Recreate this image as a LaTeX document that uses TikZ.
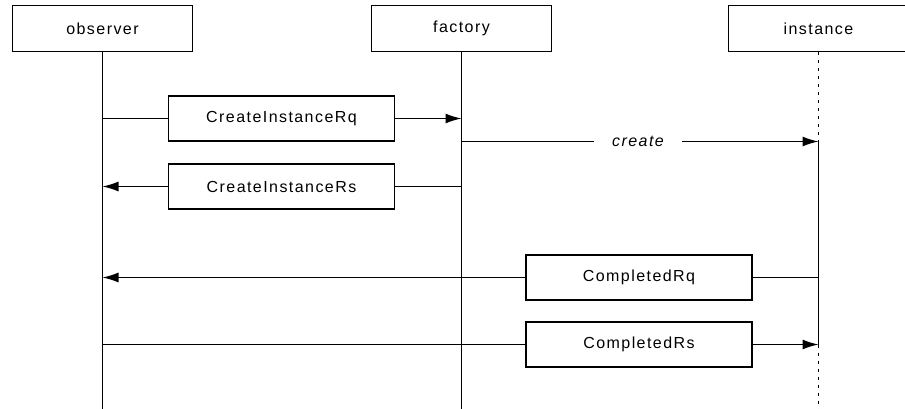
\documentclass[tikz,border=0pt]{standalone}
\usepackage{fontspec}
\setmainfont{Liberation Sans}[LetterSpace=9]
\usetikzlibrary{arrows.meta}
\begin{document}
\begin{tikzpicture}[x=1pt,y=-1pt,
  every node/.style={font=\fontsize{16}{19}\selectfont},
  header/.style={draw,line width=1.4pt,minimum width=180pt,minimum height=46pt,inner sep=0pt},
  msgbox/.style={draw,line width=1.4pt,minimum width=226pt,minimum height=45pt,inner sep=0pt},
  lifeline/.style={line width=1.3pt},
  dormant/.style={line width=1.3pt,dash pattern=on 3pt off 5pt},
  wire/.style={line width=1.3pt},
  msgarrow/.style={line width=1.3pt,-{Latex[length=16pt,width=10pt]}}]
\useasboundingbox (0,0) rectangle (905,409);

% participant headers
\node[header] (obs) at (102.5,28.5) {observer};
\node[header] (fac) at (461.5,28.5) {factory};
\node[header] (ins) at (818.5,28.5) {instance};

% points on the lifelines where messages attach
\coordinate (o1) at (102.5,118.5);
\coordinate (o2) at (102.5,186.5);
\coordinate (o3) at (102.5,277.5);
\coordinate (o4) at (102.5,344.5);
\coordinate (oe) at (102.5,409);
\coordinate (f1) at (461.5,118.5);
\coordinate (f2) at (461.5,141.5);
\coordinate (f3) at (461.5,186.5);
\coordinate (fe) at (461.5,409);
\coordinate (i1) at (818.5,141.5);
\coordinate (i2) at (818.5,277.5);
\coordinate (i3) at (818.5,344.5);
\coordinate (ie) at (818.5,409);

% lifelines
\draw[lifeline] (obs.south) -- (oe);
\draw[lifeline] (fac.south) -- (fe);
\draw[dormant] (ins.south) -- (i1);
\draw[lifeline] (i1) -- (i3);
\draw[dormant] (i3) -- (ie);

% message boxes
\node[msgbox] (rq) at (281.5,118.5) {CreateInstanceRq};
\node[msgbox] (rs) at (281.5,186.5) {CreateInstanceRs};
\node[msgbox] (crq) at (639,277.5) {CompletedRq};
\node[msgbox] (crs) at (639,344.5) {CompletedRs};
\node[inner xsep=18pt,inner ysep=0pt] (cr) at (638,141.5) {\itshape create};

% messages
\draw[wire] (o1) -- (rq.west);
\draw[msgarrow] (rq.east) -- (f1);

\draw[wire] (f3) -- (rs.east);
\draw[msgarrow] (rs.west) -- (o2);

\draw[wire] (f2) -- (cr.west);
\draw[msgarrow] (cr.east) -- (i1);

\draw[wire] (i2) -- (crq.east);
\draw[msgarrow] (crq.west) -- (o3);

\draw[wire] (o4) -- (crs.west);
\draw[msgarrow] (crs.east) -- (i3);
\end{tikzpicture}
\end{document}
